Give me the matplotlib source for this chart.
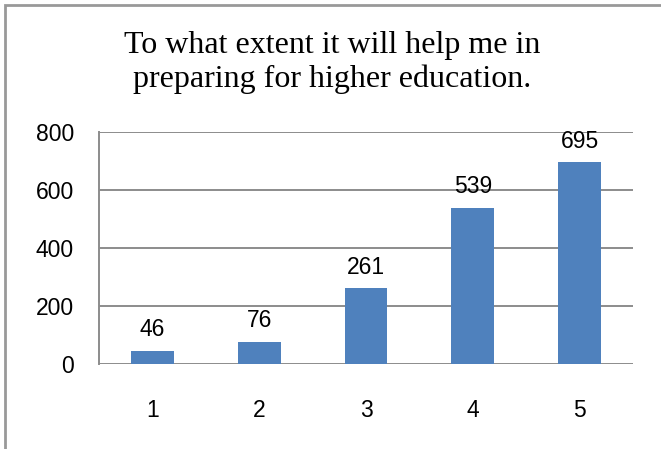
import matplotlib.pyplot as plt
from matplotlib.patches import Rectangle

categories = ['1', '2', '3', '4', '5']
counts = [46, 76, 261, 539, 695]
yticks = [0, 200, 400, 600, 800]
title = 'To what extent it will help me in\npreparing for higher education.'

fig = plt.figure(figsize=(6.61, 4.49), dpi=100)
ax = fig.add_axes([99 / 661, 1 - 364 / 449, 534 / 661, 232 / 449])

x = range(len(categories))
ax.bar(x, counts, width=0.4, color='#4f81bd', zorder=3)
for xi, v in zip(x, counts):
    ax.annotate(str(v), (xi, v), xytext=(0, 7), textcoords='offset points',
                ha='center', va='bottom', fontsize=16.5, family='Liberation Sans')

ax.set_xlim(-0.5, len(categories) - 0.5)
ax.set_ylim(0, 800)
ax.set_yticks(yticks)
ax.set_xticks(list(x))
ax.set_xticklabels(categories)
ax.tick_params(length=0, labelsize=16.5)
ax.tick_params(axis='y', pad=18)
ax.tick_params(axis='x', pad=25)
for lab in ax.get_xticklabels() + ax.get_yticklabels():
    lab.set_family('Liberation Sans')
ax.grid(axis='y', color='#8c8c8c', linewidth=1.4, zorder=0)
for s in ['top', 'right', 'bottom']:
    ax.spines[s].set_visible(False)
ax.spines['left'].set_color('#8c8c8c')
ax.spines['left'].set_linewidth(1.4)

fig.text(332 / 661, 1 - 62 / 449, title, ha='center', va='center',
         fontsize=23, family='Liberation Serif', linespacing=1.2)

fig.patches.append(Rectangle((4.5 / 661, -0.1), 1.2, (449 - 5.5) / 449 + 0.1,
                             transform=fig.transFigure, fill=False,
                             edgecolor='#999999', linewidth=2))

fig.savefig('out.png', dpi=100)
